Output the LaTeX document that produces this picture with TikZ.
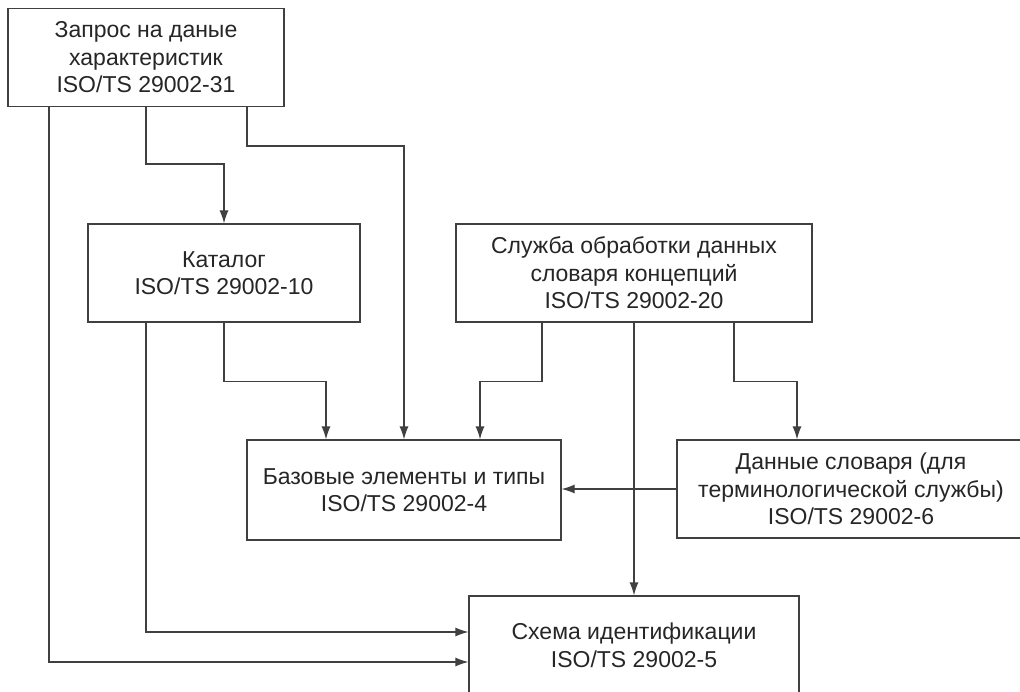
\documentclass[tikz,border=0pt]{standalone}
\usepackage{fontspec}
\setmainfont{Liberation Sans}
\usepackage{tikz}
\usetikzlibrary{arrows.meta,positioning}
\begin{document}
\begin{tikzpicture}[x=1pt, y=-1pt,
  box/.style={draw=black!75, line width=1.2pt, align=center, inner sep=0pt,
              font=\fontsize{23}{27.5}\selectfont, text=black!85, minimum height=98},
  arr/.style={-{Latex[length=13pt,width=9pt]}, draw=black!75, line width=1.2pt}]
\useasboundingbox[fill=white] (0,0) rectangle (1020,692);
\node[box, minimum width=276] (zapros) at (146,57.5) {Запрос на даные\\ характеристик\\ ISO/TS 29002-31};
\node[box, minimum width=272] (katalog) at (224,273) {Каталог\\ ISO/TS 29002-10};
\node[box, minimum width=356] (sluzhba) at (634,273) {Служба обработки данных\\ словаря концепций\\ ISO/TS 29002-20};
\node[box, minimum width=314, minimum height=100] (bazovye) at (404,490) {Базовые элементы и типы\\ ISO/TS 29002-4};
\node[box, minimum width=348] (dannye) at (851,489) {Данные словаря (для\\ терминологической службы)\\ ISO/TS 29002-6};
\node[box, minimum width=330, minimum height=99] (skhema) at (634,645.5) {Схема идентификации\\ ISO/TS 29002-5};
\draw[arr] ([xshift=-97]zapros.south) |- ([yshift=-16.5]skhema.west);
\draw[arr] (zapros.south) -- ++(0,57) -| (katalog.north);
\draw[arr] ([xshift=101]zapros.south) -- ++(0,39) -| (bazovye.north);
\draw[arr] ([xshift=-78]katalog.south) |- ([yshift=13.5]skhema.west);
\draw[arr] (katalog.south) -- ++(0,59) -| ([xshift=-78]bazovye.north);
\draw[arr] ([xshift=-92]sluzhba.south) -- ++(0,59) -| ([xshift=76]bazovye.north);
\draw[arr] ([xshift=100]sluzhba.south) -- ++(0,59) -| ([xshift=-54]dannye.north);
\draw[arr] (sluzhba.south) -- (skhema.north);
\draw[arr] (dannye.west) -- (dannye.west -| bazovye.east);
\end{tikzpicture}
\end{document}
